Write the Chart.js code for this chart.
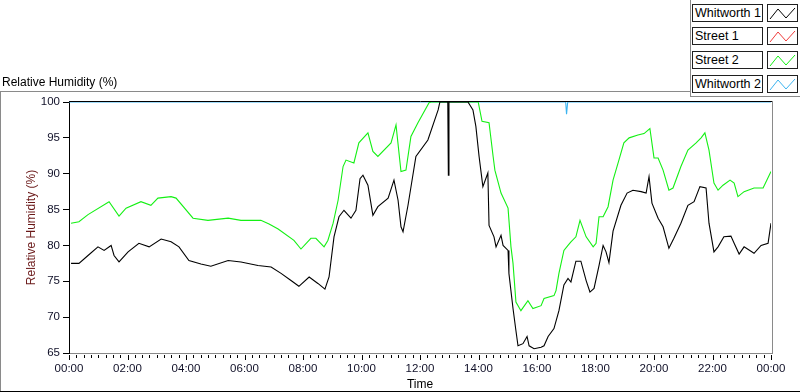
<!DOCTYPE html>
<html>
<head>
<meta charset="utf-8">
<script src="https://cdn.jsdelivr.net/npm/chart.js@4.4.1/dist/chart.umd.min.js"></script>
<style>
  body { margin: 0; background: #fff; font-family: 'Liberation Sans', Arial, sans-serif; }
  #wrap { position: relative; width: 800px; height: 392px; overflow: hidden; }
  #rh { position: absolute; left: 0; top: 0; }
  .ln { position: absolute; background: #8a8a8a; }
  #title { position: absolute; left: 2px; top: 75px; font-size: 12px; color: #000; }
  .lg-label { position: absolute; left: 692px; border: 1px solid #202020;
              font-size: 12.5px; line-height: 16px; padding-left: 2px; box-sizing: border-box; width: 71px; height: 18px; background: #fff; }
  .lg-sample { position: absolute; left: 767px; width: 31px; height: 18px; border: 1px solid #202020; box-sizing: border-box; background: #fff; }
</style>
</head>
<body>
<div id="wrap">
  <canvas id="rh" width="800" height="392"></canvas>
  <div class="ln" style="left:0;top:91px;width:690px;height:1px"></div>
  <div class="ln" style="left:690px;top:0;width:1px;height:96px"></div>
  <div class="ln" style="left:690px;top:96px;width:110px;height:1px"></div>
  <div class="ln" style="left:0;top:91px;width:1px;height:301px"></div>
  <div class="ln" style="left:0;top:391px;width:800px;height:1px;background:#000"></div>
  <div id="title">Relative Humidity (%)</div>
  <div id="legend"></div>
</div>
<script>
// time in hours since midnight
const w1Times = [0.07, 0.34, 0.65, 0.99, 1.20, 1.44, 1.54, 1.71, 2.02, 2.39, 2.74, 3.15, 3.49, 3.76, 4.10, 4.51, 4.85,
  5.44, 5.88, 6.46, 6.91, 7.25, 7.59, 7.86, 8.21, 8.51, 8.75, 8.89, 9.06, 9.23, 9.40, 9.64, 9.81, 9.95, 10.05, 10.22,
  10.39, 10.56, 10.91, 11.11, 11.25, 11.35, 11.42, 11.59, 11.86, 12.27, 12.62, 12.68, 12.95, 12.97, 12.99, 13.64,
  13.81, 13.91, 14.02, 14.15, 14.32, 14.36, 14.53, 14.60, 14.77, 14.84, 15.01, 15.04, 15.18, 15.28, 15.35, 15.52,
  15.66, 15.73, 15.90, 16.14, 16.24, 16.38, 16.58, 16.75, 16.92, 17.06, 17.16, 17.33, 17.50, 17.68, 17.81, 17.95,
  18.12, 18.26, 18.36, 18.46, 18.60, 18.87, 19.08, 19.28, 19.56, 19.73, 19.83, 19.93, 20.14, 20.31, 20.51, 20.68,
  20.92, 21.16, 21.37, 21.57, 21.78, 21.88, 22.05, 22.19, 22.39, 22.63, 22.74, 22.91, 23.08, 23.42, 23.66, 23.90, 24.0];
const w1Values = [77.5, 77.5, 78.6, 79.8, 79.3, 80.0, 78.6, 77.7, 79.1, 80.3, 79.8, 80.9, 80.5, 79.8, 77.9, 77.4, 77.1,
  77.9, 77.7, 77.2, 77.0, 76.1, 75.1, 74.3, 75.6, 74.7, 73.9, 75.6, 81.2, 84.0, 84.9, 83.8, 84.9, 89.3, 89.8, 88.4,
  84.2, 85.4, 86.6, 89.1, 86.3, 82.6, 81.9, 85.6, 92.4, 94.7, 98.9, 100, 100, 89.8, 100, 100,
  98.9, 96.6, 92.4, 88.2, 90.1, 82.8, 81.2, 79.8, 81.4, 80.0, 79.3, 76.1, 71.2, 68.1, 66.0, 66.3,
  67.3, 66.0, 65.6, 65.8, 66.0, 67.3, 68.4, 70.9, 74.5, 75.4, 74.9, 77.8, 77.8, 75.1, 73.5, 74.0,
  77.2, 80.0, 79.1, 77.6, 82.0, 85.6, 87.3, 87.7, 87.5, 87.3, 89.6, 85.9, 83.8, 82.6, 79.6, 81.0,
  83.1, 85.6, 86.1, 88.2, 88.0, 83.1, 79.1, 79.8, 81.2, 81.3, 80.3, 78.8, 79.8, 78.9, 80.0, 80.3, 83.1];

// Street 1 has no visible trace in the picture
const s1Times = [];
const s1Values = [];

const s2Times = [0.07, 0.34, 0.65, 1.37, 1.71, 1.95, 2.46, 2.80, 3.04, 3.49, 3.66, 4.24, 4.75, 5.44, 5.88, 6.56, 6.84,
  7.15, 7.69, 7.93, 8.27, 8.44, 8.72, 8.85, 9.03, 9.20, 9.37, 9.47, 9.74, 9.91, 10.22, 10.39, 10.56, 11.01, 11.18,
  11.35, 11.52, 11.69, 11.93, 12.31, 12.38, 13.99, 14.12, 14.36, 14.50, 14.56, 14.77, 15.01, 15.11, 15.18, 15.28,
  15.45, 15.69, 15.86, 16.14, 16.24, 16.58, 16.65, 16.75, 16.92, 17.06, 17.16, 17.33, 17.47, 17.68, 17.92, 18.02,
  18.12, 18.26, 18.43, 18.60, 18.80, 18.97, 19.15, 19.45, 19.66, 19.86, 20.00, 20.14, 20.31, 20.51, 20.65, 20.92,
  21.16, 21.44, 21.61, 21.74, 21.88, 22.05, 22.19, 22.36, 22.60, 22.74, 22.87, 23.08, 23.42, 23.73, 24.0];
const s2Values = [83.1, 83.3, 84.3, 86.1, 84.1, 85.2, 86.1, 85.6, 86.6, 86.8, 86.6, 83.8, 83.5, 83.8, 83.5, 83.5, 83.0,
  82.3, 80.7, 79.5, 81.0, 81.0, 79.8, 80.7, 83.1, 86.3, 91.0, 91.9, 91.5, 94.3, 95.7, 93.1, 92.4, 94.3, 96.8,
  90.3, 90.5, 95.2, 97.1, 99.9, 100, 100, 97.3, 97.1, 92.4, 90.5, 87.3, 85.2, 79.8, 77.5, 72.1,
  70.9, 72.3, 71.2, 71.6, 72.6, 73.0, 73.7, 76.1, 79.3, 80.0, 80.5, 81.2, 83.5, 81.2, 79.8, 80.3,
  84.0, 84.0, 85.4, 89.1, 91.9, 94.3, 95.0, 95.4, 95.6, 96.3, 92.2, 92.2, 90.5, 87.7, 88.0, 91.0,
  93.3, 94.3, 95.0, 95.7, 93.3, 88.7, 87.7, 88.4, 89.1, 88.7, 86.8, 87.5, 88.0, 88.0, 90.3];

const w2Times = [0, 16.98, 17.01, 17.05, 24];
const w2Values = [100, 100, 98.3, 100, 100];

const seriesNames = ['Whitworth 1', 'Street 1', 'Street 2', 'Whitworth 2'];
const seriesColors = ['#000000', '#f03c3c', '#14f014', '#3cb4f0'];
const yTicks = [65, 70, 75, 80, 85, 90, 95, 100];

const pts = (t, v) => t.map((h, i) => ({ x: h, y: v[i] }));
const seriesData = [pts(w1Times, w1Values), pts(s1Times, s1Values), pts(s2Times, s2Values), pts(w2Times, w2Values)];

const fmtTime = v => String(v % 24).padStart(2, '0') + ':00';

// tick marks and the upper/right frame of the plot
const frame = {
  id: 'frame',
  afterDraw(chart) {
    const { ctx, chartArea: a, scales: { x } } = chart;
    ctx.save();
    ctx.lineWidth = 1;
    ctx.strokeStyle = '#000';
    x.ticks.forEach(t => {
      const px = Math.round(x.getPixelForValue(t.value)) + 0.5;
      const len = t.value % 2 === 0 ? 5 : 3;
      ctx.beginPath();
      ctx.moveTo(px, a.bottom + 2);
      ctx.lineTo(px, a.bottom + 2 + len);
      ctx.stroke();
    });
    ctx.beginPath();
    ctx.moveTo(a.left, Math.round(a.top) - 0.5);
    ctx.lineTo(a.right + 1, Math.round(a.top) - 0.5);
    ctx.stroke();
    ctx.strokeStyle = '#8a8a8a';
    ctx.beginPath();
    ctx.moveTo(Math.round(a.right) + 1.5, a.top - 1);
    ctx.lineTo(Math.round(a.right) + 1.5, a.bottom + 1);
    ctx.stroke();
    ctx.restore();
  }
};

const tickFont = { family: "'Liberation Sans', Arial, sans-serif", size: 11.5 };

new Chart(document.getElementById('rh'), {
  type: 'line',
  data: {
    datasets: seriesNames.map((n, i) => ({
      label: n,
      data: seriesData[i],
      borderColor: seriesColors[i],
      borderWidth: 1.1,
      pointRadius: 0,
      tension: 0,
      fill: false
    }))
  },
  options: {
    responsive: false,
    animation: false,
    devicePixelRatio: 1,
    layout: { padding: { top: 102, right: 29, left: 0, bottom: 0 } },
    plugins: { legend: { display: false }, tooltip: { enabled: false } },
    scales: {
      x: {
        type: 'linear', min: 0, max: 24,
        afterFit: s => { s.height = 39; },
        afterBuildTicks: s => {
          s.ticks = [];
          for (let q = 0; q <= 96; q++) s.ticks.push({ value: q / 4 });
        },
        ticks: {
          autoSkip: false, maxRotation: 0, padding: 1,
          color: '#101028', font: tickFont,
          callback: v => (v % 2 === 0 ? fmtTime(v) : '')
        },
        grid: { display: false },
        border: { display: true, color: '#8a8a8a', width: 1 },
        title: { display: true, text: 'Time', color: '#000', font: { family: "'Liberation Sans', Arial, sans-serif", size: 12, lineHeight: 1 }, padding: { top: 0, bottom: 1 } }
      },
      y: {
        min: 65, max: 100,
        afterFit: s => { s.width = 69; },
        afterBuildTicks: s => { s.ticks = yTicks.map(v => ({ value: v })); },
        ticks: { padding: 3, color: '#101028', font: tickFont },
        grid: { drawOnChartArea: false, tickLength: 6, color: '#000' },
        border: { display: true, color: '#000', width: 1 },
        title: { display: true, text: 'Relative Humidity (%)', color: '#6a1818', font: { family: "'Liberation Sans', Arial, sans-serif", size: 12 }, padding: { top: 24, bottom: 0 } }
      }
    }
  },
  plugins: [frame]
});

// legend boxes
const rowTops = [4, 27, 51, 75];
const legend = document.getElementById('legend');
seriesNames.forEach((n, i) => {
  legend.innerHTML += `<div class="lg-label" style="top:${rowTops[i]}px">${n}</div>` +
    `<div class="lg-sample" style="top:${rowTops[i]}px"><svg width="29" height="16" style="display:block">` +
    `<polyline points="2,14 10,4 18,13 27,3" fill="none" stroke="${seriesColors[i]}" stroke-width="1"/></svg></div>`;
});
</script>
</body>
</html>
